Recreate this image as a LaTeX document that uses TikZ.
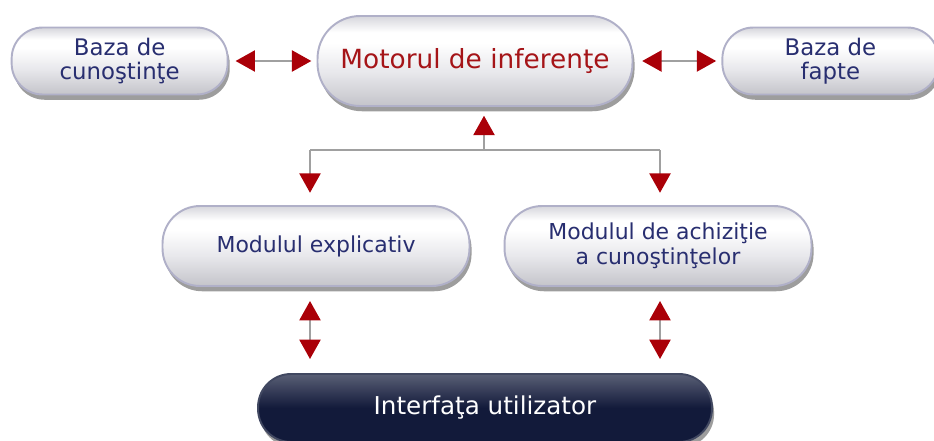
\documentclass[tikz,border=0pt]{standalone}
\usepackage{fontspec}
\setmainfont{DejaVu Sans}
\usetikzlibrary{arrows.meta,positioning,shadows}
\definecolor{navytext}{RGB}{40,46,112}
\definecolor{redtext}{RGB}{165,20,24}
\definecolor{tipred}{RGB}{170,0,8}
\definecolor{pillborder}{RGB}{176,176,200}
\definecolor{pillgray}{RGB}{196,196,202}
\definecolor{pillmid}{RGB}{232,232,236}
\definecolor{pilltop}{RGB}{214,214,220}
\definecolor{darknavy}{RGB}{18,26,58}
\definecolor{linegray}{RGB}{160,160,160}
\pgfdeclareverticalshading{pillshade}{100bp}{color(0bp)=(pillgray); color(25bp)=(pillgray); color(44bp)=(pillmid); color(60bp)=(white); color(66bp)=(white); color(75bp)=(pilltop); color(100bp)=(pilltop)}

\begin{document}
\begin{tikzpicture}[x=0.02cm, y=-0.02cm,
    node distance=1.76cm,
    pill/.style={draw=pillborder, line width=1.1pt, shading=pillshade,
      align=center, text=navytext, inner sep=0pt,
      drop shadow={shadow xshift=1.2pt, shadow yshift=-3pt, opacity=0.55, fill=black!70}},
    base/.style={pill, minimum width=4.32cm, minimum height=1.34cm, rounded corners=0.62cm,
      font=\fontsize{13}{14}\selectfont},
    module/.style={pill, minimum width=6.14cm, minimum height=1.6cm, rounded corners=0.75cm,
      font=\fontsize{12.5}{14}\selectfont},
    redtip/.style={-{Triangle[length=11pt, width=12pt, color=tipred]}},
    link/.style={draw=linegray, line width=1.1pt},
    twoway/.style={link, {Triangle[length=11pt, width=12pt, color=tipred]}-{Triangle[length=11pt, width=12pt, color=tipred]}}]
  \useasboundingbox (0,0) rectangle (934,440);

  \node[pill, minimum width=6.3cm, minimum height=1.8cm, rounded corners=0.85cm,
    text=redtext, font=\fontsize{15}{17}\selectfont] (motor) at (475,61) {Motorul de inferenţe};
  \node[base, left=of motor] (cunostinte) {Baza de\\cunoştinţe};
  \node[base, right=of motor] (fapte) {Baza de\\fapte};

  \node[module] (explicativ) at (316,246) {Modulul explicativ};
  \node[module] (achizitie) at (658,246) {Modulul de achiziţie\\a cunoştinţelor};

  \node[pill, draw=darknavy!80, shading=axis, top color=darknavy!70!white, bottom color=darknavy, middle color=darknavy,
    text=white, minimum width=9.08cm, minimum height=1.36cm, rounded corners=0.66cm,
    font=\fontsize{14}{16}\selectfont] (ui) at (485,408) {Interfaţa utilizator};

  % top row
  \draw[twoway, shorten <=4pt, shorten >=3pt] (cunostinte) -- (motor);
  \draw[twoway, shorten <=5pt, shorten >=3pt] (motor) -- (fapte);

  % fork below the engine
  \coordinate (fork) at (484,150);
  \coordinate (forkL) at (310,150);
  \coordinate (forkR) at (660,150);
  \draw[link, redtip, shorten >=5pt] (fork) -- (fork |- motor.south);
  \draw[link] (forkL) -- (forkR);
  \draw[link, redtip, shorten >=7pt] (forkL) -- (forkL |- explicativ.north);
  \draw[link, redtip, shorten >=7pt] (forkR) -- (forkR |- achizitie.north);

  % modules to interface
  \draw[twoway, shorten <=8pt, shorten >=8pt] (forkL |- explicativ.south) -- (forkL |- ui.north);
  \draw[twoway, shorten <=8pt, shorten >=8pt] (forkR |- achizitie.south) -- (forkR |- ui.north);
\end{tikzpicture}
\end{document}
